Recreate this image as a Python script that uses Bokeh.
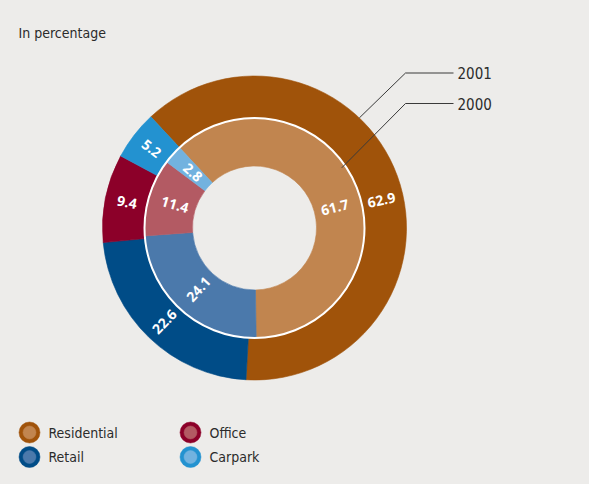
import math
from bokeh.plotting import figure
from bokeh.models import Range1d, ColumnDataSource, GlobalInlineStyleSheet
from bokeh.core.properties import value
from bokeh.embed import file_html
from bokeh.resources import INLINE

# ---------------- data ----------------
categories = ["Residential", "Retail", "Office", "Carpark"]
share_2001 = [62.9, 22.6, 9.4, 5.2]   # outer ring
share_2000 = [61.7, 24.1, 11.4, 2.8]  # inner ring
series_years = ["2001", "2000"]
title_text = "In percentage"

# ---------------- style ----------------
outer_colors = ["#A0530A", "#004C87", "#8C0029", "#2392D0"]
inner_colors = ["#C1854F", "#4B79AB", "#B35A63", "#72B2DF"]
BG = "#EDECEA"
NARROW = "DejaVu Sans Condensed"
LABEL_FONT = "Open Sans"

W, H = 573, 468
PAGE_H = 484


def Y(py):
    return PAGE_H - py


p = figure(width=W, height=H, output_backend="svg", toolbar_location=None,
           x_range=Range1d(0, W), y_range=Range1d(PAGE_H - H, PAGE_H),
           min_border=0, background_fill_color=BG, border_fill_color=BG)
p.axis.visible = False
p.grid.visible = False
p.outline_line_color = None
p.stylesheets = [GlobalInlineStyleSheet(css="body{background:%s;}" % BG)]

cx, cy = 254, Y(227.5)
start_deg = 133.0           # math angle where Residential begins, drawn clockwise
label_nudge = [-7.5, 0, 0, 0]


def ring(values, r_in, r_out, colors, label_r):
    total = sum(values)
    a = start_deg
    st, en, lx, ly, la, lt = [], [], [], [], [], []
    for v, nudge in zip(values, label_nudge):
        sweep = 360.0 * v / total
        s, e = a, a - sweep
        st.append(math.radians(s))
        en.append(math.radians(e))
        mid = (s + e) / 2 + nudge
        lx.append(cx + label_r * math.cos(math.radians(mid)))
        ly.append(cy + label_r * math.sin(math.radians(mid)))
        rot = ((mid + 90) % 180) - 90
        la.append(math.radians(rot))
        lt.append("%.1f" % v)
        a = e
    src = ColumnDataSource(dict(start=st, end=en, color=colors))
    p.annular_wedge(x=cx, y=cy, inner_radius=r_in, outer_radius=r_out,
                    start_angle="start", end_angle="end", direction="clock",
                    fill_color="color", line_color="color", line_width=0.6,
                    source=src)
    lsrc = ColumnDataSource(dict(x=lx, y=ly, angle=la, text=lt))
    p.text(x="x", y="y", text="text", angle="angle", source=lsrc,
           text_color="white", text_font=value(LABEL_FONT),
           text_font_style="bold", text_font_size="14px",
           text_align="center", text_baseline="middle")


ring(share_2001, 110, 152, outer_colors, 130)
ring(share_2000, 62, 110, inner_colors, 83)

# white separator circle between the rings
p.circle(x=[cx], y=[cy], radius=110, fill_color=None, line_color="white", line_width=2)

# leader lines to the year labels
leaders = [(152, 46.4, 72.5), (106, 34.6, 103)]
for year, (r, ang, ly_px) in zip(series_years, leaders):
    ex = cx + r * math.cos(math.radians(ang))
    ey = cy + r * math.sin(math.radians(ang))
    elbow_x = 405
    p.line(x=[ex, elbow_x, 453], y=[ey, Y(ly_px), Y(ly_px)],
           line_color="#3a3a3a", line_width=1)
    p.text(x=[457], y=[Y(ly_px)], text=[year], text_font=value(NARROW),
           text_font_size="15px", text_color="#2b2b2b",
           text_baseline="middle", text_align="left")

# title
p.text(x=[18], y=[Y(32)], text=[title_text], text_font=value(NARROW),
       text_font_size="14px", text_color="#2b2b2b",
       text_baseline="middle", text_align="left")

# legend
leg_x = [29, 29, 190, 190]
leg_y = [432, 456.5, 432, 456.5]
for name, oc, ic, lxp, lyp in zip(categories, outer_colors, inner_colors, leg_x, leg_y):
    p.circle(x=[lxp], y=[Y(lyp)], radius=10.5, fill_color=oc, line_color=oc, line_width=0.5)
    p.circle(x=[lxp], y=[Y(lyp)], radius=6.5, fill_color=ic, line_color=ic, line_width=0.5)
    p.text(x=[lxp + 19], y=[Y(lyp)], text=[name], text_font=value(NARROW),
           text_font_size="14px", text_color="#2b2b2b",
           text_baseline="middle", text_align="left")

open("out.html", "w").write(file_html(p, INLINE))
